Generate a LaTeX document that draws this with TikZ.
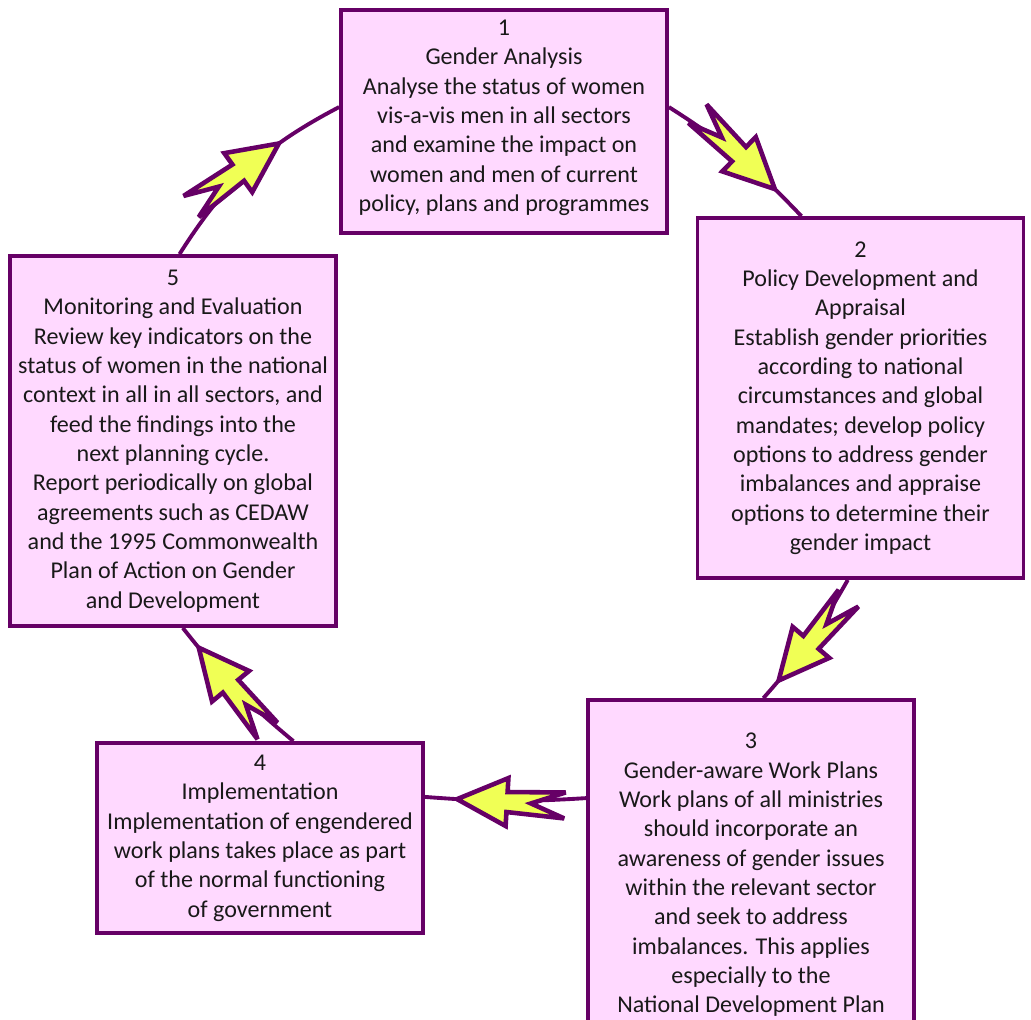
\documentclass[tikz,border=0pt]{standalone}
\usepackage{fontspec}
\setmainfont{Carlito}
\usetikzlibrary{decorations.markings}

\definecolor{plum}{HTML}{660066}
\definecolor{blush}{HTML}{FFD9FF}
\definecolor{zap}{HTML}{F0FF55}

\begin{document}
\begin{tikzpicture}
	[x=0.02cm, y=0.02cm,
	stage/.style={rectangle, draw=plum, fill=blush, line width=2.2pt, minimum width=6.52cm, align=center, inner sep=2pt, text=black!90, font=\fontsize{13.7}{16.7}\selectfont},
	bolt/.pic={\draw [line width=2.6pt, draw=plum, fill=zap, line join=miter, miter limit=4] (0,0) -- (-50,24) -- (-50,10) -- (-108,13) -- (-74,0) -- (-108,-13) -- (-50,-10) -- (-50,-24) -- cycle;},
	link/.style={line width=2.2pt, draw=plum, postaction={decorate}, decoration={markings, mark=at position #1 with {\pic [transform shape] {bolt};}}}]

\clip (0,0) rectangle (1031,-1019);

\node [stage, minimum height=4.46cm] (b1) at (504,-121.5) {1\\Gender Analysis\\Analyse the status of women\\vis-a-vis men in all sectors\\and examine the impact on\\women and men of current\\policy, plans and programmes\\[-10pt]};
\node [stage, minimum height=7.2cm] (b2) at (860.5,-398) {2\\Policy Development and\\Appraisal\\Establish gender priorities\\according to national\\circumstances and global\\mandates; develop policy\\options to address gender\\imbalances and appraise\\options to determine their\\gender impact};
\node [stage, minimum height=7.0cm] (b3) at (751,-875) {3\\Gender-aware Work Plans\\Work plans of all ministries\\should incorporate an\\awareness of gender issues\\within the relevant sector\\and seek to address\\imbalances. This applies\\especially to the\\National Development Plan};
\node [stage, minimum height=3.8cm] (b4) at (260,-838) {4\\Implementation\\Implementation of engendered\\work plans takes place as part\\of the normal functioning\\of government};
\node [stage, minimum height=7.4cm] (b5) at (173,-441) {5\\Monitoring and Evaluation\\Review key indicators on the\\status of women in the national\\context in all in all sectors, and\\feed the findings into the\\next planning cycle.\\Report periodically on global\\agreements such as CEDAW\\and the 1995 Commonwealth\\Plan of Action on Gender\\and Development};

\draw [link=0.78] (b1.5) to [bend left=7] (b2.108);
\draw [link=0.84] (b2.266) to [bend left=6] (b3.86);
\draw [link=0.8] (b3.155) to [bend left=4] (b4.14);
\draw [link=0.84] (b4.71) to [bend left=6] (b5.273);
\draw [link=0.68] (b5.88) to [bend left=15] (b1.175);

\end{tikzpicture}
\end{document}
